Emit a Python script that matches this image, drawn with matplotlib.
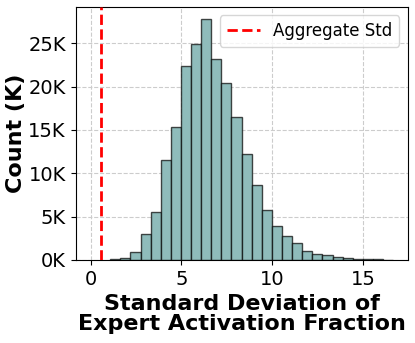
import matplotlib
matplotlib.use("Agg")
import matplotlib.pyplot as plt
from matplotlib.ticker import FuncFormatter
import numpy as np

# histogram bins (left edge, width) and counts in thousands
bin_start = 1.08
bin_width = 0.556
counts_k = [0.1, 0.27, 0.93, 3.05, 5.56, 11.5, 15.36, 22.34, 24.96, 27.78,
            23.23, 20.41, 16.55, 12.23, 8.68, 5.79, 3.90, 2.78, 1.97, 1.08,
            0.66, 0.58, 0.35, 0.23, 0.12, 0.08, 0.08, 0.04]
aggregate_std = 0.55

edges = bin_start + bin_width * np.arange(len(counts_k) + 1)
counts = np.array(counts_k) * 1000

fig, ax = plt.subplots(figsize=(4.15, 3.43), dpi=100)
ax.hist(edges[:-1], bins=edges, weights=counts, color='#8fbcbb',
        edgecolor=(0, 0, 0, 0.7), linewidth=1.0, zorder=2)
ax.axvline(aggregate_std, color='red', linestyle='--', linewidth=2,
           label='Aggregate Std', zorder=3)

ax.set_xlim(-0.83, 17.44)
ax.set_ylim(0, 29200)
ax.set_xticks([0, 5, 10, 15])
ax.set_yticks([0, 5000, 10000, 15000, 20000, 25000])
ax.yaxis.set_major_formatter(FuncFormatter(lambda v, _: '%dK' % int(v / 1000)))
ax.tick_params(labelsize=14)
ax.grid(True, linestyle='--', color='#cccccc', linewidth=0.8, zorder=0)
ax.set_axisbelow(True)

ax.set_xlabel('Standard Deviation of\nExpert Activation Fraction',
              fontsize=16, fontweight='bold', linespacing=1.0)
ax.set_ylabel('Count (K)', fontsize=16, fontweight='bold', labelpad=2)
ax.legend(loc='upper right', fontsize=12)

fig.subplots_adjust(left=0.182, right=0.982, top=0.98, bottom=0.242)
plt.savefig('out.png')
